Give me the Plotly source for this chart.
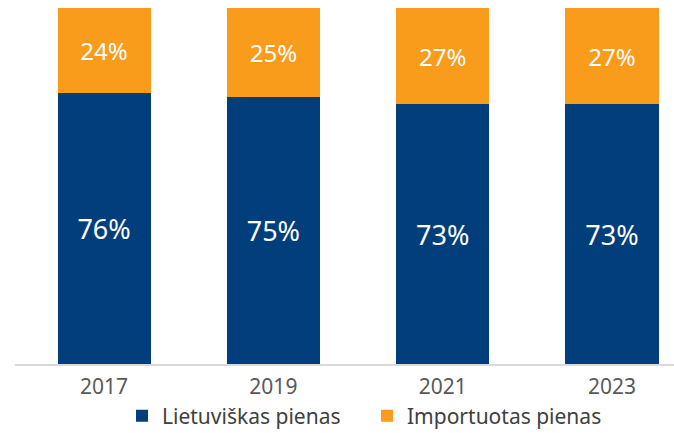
import plotly.graph_objects as go

# Milk consumption share by origin
years = ["2017", "2019", "2021", "2023"]
lietuviskas = [76, 75, 73, 73]
importuotas = [24, 25, 27, 27]

NAVY = "#023e7b"
ORANGE = "#f99b1b"
FONT = "Noto Sans"
W, H = 674, 433

fig = go.Figure()
fig.add_trace(go.Bar(
    x=years, y=lietuviskas, name="Lietuviškas pienas",
    marker=dict(color=NAVY, line=dict(width=0)),
    text=[f"{v}%" for v in lietuviskas], textposition="inside",
    insidetextanchor="middle", textangle=0,
    textfont=dict(family=FONT, size=27, color="white"),
))
fig.add_trace(go.Bar(
    x=years, y=importuotas, name="Importuotas pienas",
    marker=dict(color=ORANGE, line=dict(width=0)),
    text=[f"{v}%" for v in importuotas], textposition="inside",
    insidetextanchor="middle", textangle=0,
    textfont=dict(family=FONT, size=24, color="white"),
))

# plot area placed by domains, margins zero so nothing gets pushed around
fig.update_layout(
    barmode="stack", bargap=0.45,
    width=W, height=H,
    margin=dict(l=0, r=0, t=0, b=0, autoexpand=False),
    paper_bgcolor="white", plot_bgcolor="white",
    font=dict(family=FONT, size=21, color="#595959"),
    showlegend=True,
    legend=dict(orientation="h", x=0.5 + 30 / W, xanchor="center",
                y=(H - 416) / H, yanchor="middle",
                font=dict(family=FONT, size=21, color="#404040"),
                itemwidth=30, entrywidth=200, traceorder="normal",
                bgcolor="rgba(0,0,0,0)"),
    xaxis=dict(type="category", domain=[15 / W, 1], range=[-0.526, 3.366],
               showgrid=False, showline=True, linecolor="#d9d9d9", linewidth=1.5,
               ticks="", ticklabelstandoff=3,
               tickfont=dict(family=FONT, size=21, color="#595959"),
               fixedrange=True),
    yaxis=dict(domain=[(H - 364) / H, (H - 8) / H], range=[0, 100],
               visible=False, showgrid=False, fixedrange=True),
)

# drop the default body margin so the figure sits at the window's corner
fig.write_html("out.html", config={"displayModeBar": False},
               post_script="document.body.style.margin='0';")
